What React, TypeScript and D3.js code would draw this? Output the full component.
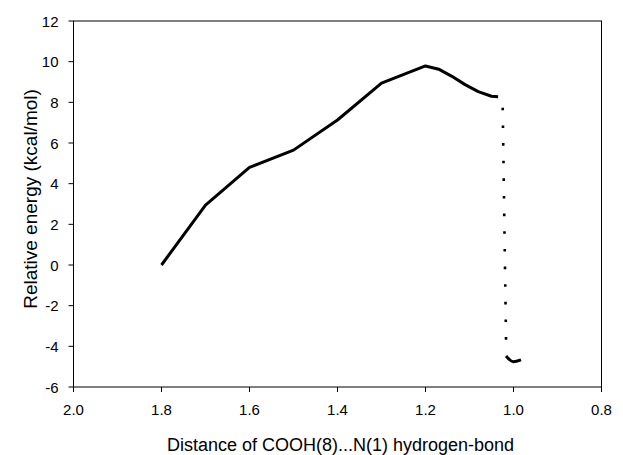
import React from "react";
import * as d3 from "d3";

// Main energy curve
const distances = [1.8, 1.7, 1.6, 1.5, 1.4, 1.3, 1.2, 1.17, 1.14, 1.11, 1.08, 1.05, 1.035];
const energies = [0.0, 2.95, 4.8, 5.65, 7.13, 8.94, 9.79, 9.63, 9.28, 8.87, 8.53, 8.3, 8.28];

// Dotted drop (first and last dot)
const dropDistances = [1.0245, 1.017];
const dropEnergies = [7.67, -3.61];
const dropDotCount = 14;

// Tail after the drop
const tailDistances = [1.017, 1.0005, 0.983];
const tailEnergies = [-4.48, -4.76, -4.67];

const xTicks = [2.0, 1.8, 1.6, 1.4, 1.2, 1.0, 0.8];
const yTicks = [-6, -4, -2, 0, 2, 4, 6, 8, 10, 12];

const xTitle = "Distance of COOH(8)...N(1) hydrogen-bond";
const yTitle = "Relative energy (kcal/mol)";

export default function App() {
  const W = 623, H = 455;
  const left = 73.5, right = 601.5, top = 21, bottom = 387;
  const x = d3.scaleLinear().domain([2.0, 0.8]).range([left, right]);
  const y = d3.scaleLinear().domain([-6, 12]).range([bottom, top]);
  const line = d3.line<[number, number]>().x((d) => x(d[0])).y((d) => y(d[1]));

  const main = distances.map((d, i) => [d, energies[i]] as [number, number]);
  const drop = dropDistances.map((d, i) => [d, dropEnergies[i]] as [number, number]);
  const tail = tailDistances.map((d, i) => [d, tailEnergies[i]] as [number, number]);

  const dx = x(drop[1][0]) - x(drop[0][0]);
  const dy = y(drop[1][1]) - y(drop[0][1]);
  const dropLen = Math.sqrt(dx * dx + dy * dy);
  const period = dropLen / (dropDotCount - 1);

  const font = "'Liberation Sans', Arial, sans-serif";

  return (
    <svg
      width={W}
      height={H}
      style={{ position: "absolute", left: 0, top: 0, background: "#fff" }}
    >
      <rect x={0} y={0} width={W} height={H} fill="#fff" />
      {/* frame */}
      <rect
        x={left}
        y={top}
        width={right - left}
        height={bottom - top}
        fill="none"
        stroke="#000"
        strokeWidth={1}
      />
      {/* y ticks */}
      {yTicks.map((t) => (
        <g key={"y" + t}>
          <line x1={left - 5} x2={left} y1={y(t)} y2={y(t)} stroke="#000" strokeWidth={1} />
          <text
            x={left - 15}
            y={y(t) + 5.5}
            textAnchor="end"
            fontFamily={font}
            fontSize={15}
            fill="#000"
          >
            {t}
          </text>
        </g>
      ))}
      {/* x ticks */}
      {xTicks.map((t) => (
        <g key={"x" + t}>
          <line x1={x(t)} x2={x(t)} y1={bottom} y2={bottom + 5} stroke="#000" strokeWidth={1} />
          <text
            x={x(t)}
            y={415}
            textAnchor="middle"
            fontFamily={font}
            fontSize={15}
            fill="#000"
          >
            {t.toFixed(1)}
          </text>
        </g>
      ))}
      {/* titles */}
      <text
        x={(left + right) / 2 + 3}
        y={450.5}
        textAnchor="middle"
        fontFamily={font}
        fontSize={18}
        fill="#000"
      >
        {xTitle}
      </text>
      <text
        transform={`translate(36.5, 199) rotate(-90)`}
        textAnchor="middle"
        fontFamily={font}
        fontSize={19}
        fill="#000"
      >
        {yTitle}
      </text>
      {/* curves */}
      <path d={line(main) || ""} fill="none" stroke="#000" strokeWidth={3} strokeLinejoin="round" />
      <path
        d={line(drop) || ""}
        fill="none"
        stroke="#000"
        strokeWidth={2.6}
        strokeLinecap="square"
        strokeDasharray={`0 ${period}`}
      />
      <path
        d={line.curve(d3.curveMonotoneX)(tail) || ""}
        fill="none"
        stroke="#000"
        strokeWidth={3}
        strokeLinejoin="round"
      />
    </svg>
  );
}
